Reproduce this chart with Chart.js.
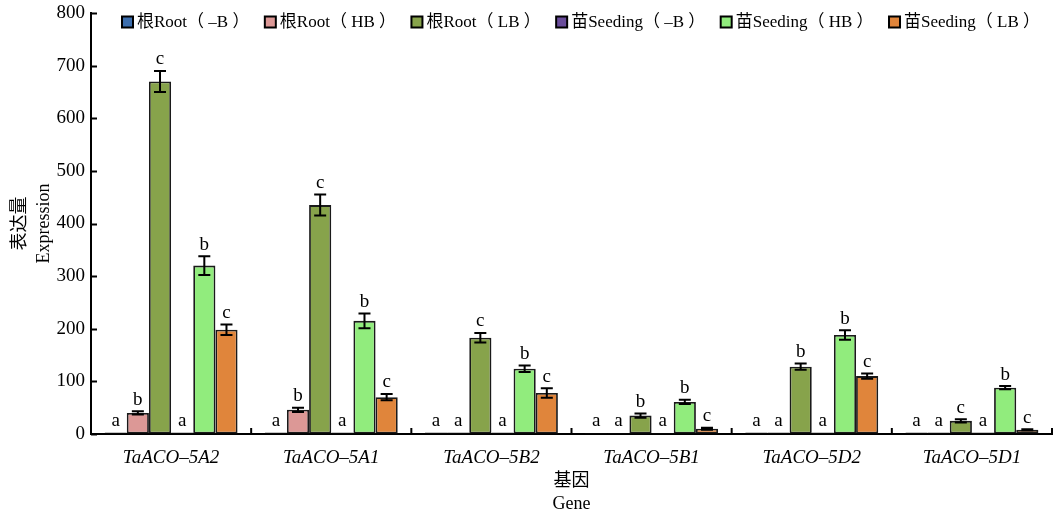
<!DOCTYPE html>
<html>
<head>
<meta charset="utf-8">
<script src="https://cdn.jsdelivr.net/npm/chart.js@4/dist/chart.umd.min.js"></script>
<style>
  html, body { margin: 0; padding: 0; background: #fff; }
</style>
</head>
<body>
<canvas id="c" width="1053" height="514"></canvas>
<script>
// Categories (genes) and series names
const genes = ['TaACO–5A2', 'TaACO–5A1', 'TaACO–5B2', 'TaACO–5B1', 'TaACO–5D2', 'TaACO–5D1'];
const seriesNames = ['根Root（ –B ）', '根Root（ HB ）', '根Root（ LB ）', '苗Seeding（ –B ）', '苗Seeding（ HB ）', '苗Seeding（ LB ）'];

// Mean expression per series
const rootMinusB = [3, 3, 3, 2, 3, 3];
const rootHB     = [40, 46, 3, 2, 3, 3];
const rootLB     = [670, 435, 183, 35, 128, 25];
const seedMinusB = [3, 3, 3, 2, 3, 3];
const seedHB     = [320, 215, 124, 61, 188, 88];
const seedLB     = [198, 70, 78, 10, 110, 8];

// Standard errors per series
const rootMinusBErr = [0, 0, 0, 0, 0, 0];
const rootHBErr     = [3, 4, 0, 0, 0, 0];
const rootLBErr     = [20, 20, 9, 4, 6, 3];
const seedMinusBErr = [0, 0, 0, 0, 0, 0];
const seedHBErr     = [18, 14, 6, 4, 9, 3];
const seedLBErr     = [10, 6, 9, 2, 5, 1];

// Significance letters per series
const rootMinusBSig = ['a', 'a', 'a', 'a', 'a', 'a'];
const rootHBSig     = ['b', 'b', 'a', 'a', 'a', 'a'];
const rootLBSig     = ['c', 'c', 'c', 'b', 'b', 'c'];
const seedMinusBSig = ['a', 'a', 'a', 'a', 'a', 'a'];
const seedHBSig     = ['b', 'b', 'b', 'b', 'b', 'b'];
const seedLBSig     = ['c', 'c', 'c', 'c', 'c', 'c'];

// Axis ticks
const yTicks = [0, 100, 200, 300, 400, 500, 600, 700, 800];

const seriesValues = [rootMinusB, rootHB, rootLB, seedMinusB, seedHB, seedLB];
const seriesErrors = [rootMinusBErr, rootHBErr, rootLBErr, seedMinusBErr, seedHBErr, seedLBErr];
const seriesLetters = [rootMinusBSig, rootHBSig, rootLBSig, seedMinusBSig, seedHBSig, seedLBSig];
const seriesColors = ['#3d6fae', '#dc9896', '#87a34b', '#6a4d9b', '#91ec7d', '#e0853b'];

const FONT = '"Liberation Serif", "Noto Sans CJK SC", serif';

// Error bars and significance letters above each bar
const errorBarPlugin = {
  id: 'errorBars',
  afterDatasetsDraw(chart) {
    const ctx = chart.ctx;
    const y = chart.scales.y;
    ctx.save();
    chart.data.datasets.forEach((ds, i) => {
      const meta = chart.getDatasetMeta(i);
      meta.data.forEach((bar, j) => {
        const v = ds.data[j];
        const e = seriesErrors[i][j];
        let top = y.getPixelForValue(v);
        if (e > 0) {
          const yHi = y.getPixelForValue(v + e);
          const yLo = y.getPixelForValue(v - e);
          ctx.strokeStyle = '#000';
          ctx.lineWidth = 2;
          ctx.beginPath();
          ctx.moveTo(bar.x, yHi); ctx.lineTo(bar.x, yLo);
          ctx.moveTo(bar.x - 6, yHi); ctx.lineTo(bar.x + 6, yHi);
          ctx.moveTo(bar.x - 6, yLo); ctx.lineTo(bar.x + 6, yLo);
          ctx.stroke();
          top = yHi;
        }
        ctx.fillStyle = '#000';
        ctx.font = '19px ' + FONT;
        ctx.textAlign = 'center';
        ctx.textBaseline = 'bottom';
        ctx.fillText(seriesLetters[i][j], bar.x, top - 2);
      });
    });
    ctx.restore();
  }
};

// Inward tick marks: category boundaries on x, value ticks on y
const inwardTicks = {
  id: 'inwardTicks',
  afterDraw(chart) {
    const ctx = chart.ctx;
    const x = chart.scales.x;
    const y = chart.scales.y;
    const { left, bottom } = chart.chartArea;
    ctx.save();
    ctx.strokeStyle = '#000';
    ctx.lineWidth = 2;
    for (let i = 0; i < genes.length; i++) {
      const px = x.getPixelForValue(i + 0.5);
      ctx.beginPath();
      ctx.moveTo(px, bottom);
      ctx.lineTo(px, bottom - 6);
      ctx.stroke();
    }
    yTicks.forEach(v => {
      const py = Math.round(y.getPixelForValue(v)) + 0.5;
      ctx.beginPath();
      ctx.moveTo(left, py);
      ctx.lineTo(left + 6, py);
      ctx.stroke();
    });
    ctx.restore();
  }
};

// Single-row legend laid over the top of the plot
const topLegend = {
  id: 'topLegend',
  afterDraw(chart) {
    const ctx = chart.ctx;
    ctx.save();
    ctx.font = '17px ' + FONT;
    ctx.textBaseline = 'middle';
    ctx.textAlign = 'left';
    const box = 11, boxGap = 4;
    const widths = seriesNames.map(n => box + boxGap + ctx.measureText(n).width);
    const startX = chart.chartArea.left + 31;
    const endX = chart.chartArea.right - 12;
    const gap = (endX - startX - widths.reduce((a, b) => a + b, 0)) / (seriesNames.length - 1);
    const cy = 22;
    let x = startX;
    seriesNames.forEach((name, i) => {
      ctx.fillStyle = seriesColors[i];
      ctx.fillRect(x, cy - box / 2, box, box);
      ctx.strokeStyle = '#000';
      ctx.lineWidth = 2;
      ctx.strokeRect(x, cy - box / 2, box, box);
      ctx.fillStyle = '#000';
      ctx.fillText(name, x + box + boxGap, cy + 1);
      x += widths[i] + gap;
    });
    ctx.restore();
  }
};

new Chart(document.getElementById('c'), {
  type: 'bar',
  data: {
    labels: genes,
    datasets: seriesNames.map((name, i) => ({
      label: name,
      data: seriesValues[i],
      backgroundColor: seriesColors[i],
      borderColor: '#1a1a1a',
      borderWidth: 1.8,
      borderSkipped: false,
      categoryPercentage: 0.83,
      barPercentage: 1.0
    }))
  },
  options: {
    responsive: false,
    devicePixelRatio: 1,
    animation: false,
    layout: { padding: { top: 13, right: 1, left: 0, bottom: 0 } },
    plugins: {
      legend: { display: false },
      tooltip: { enabled: false }
    },
    scales: {
      x: {
        type: 'category',
        offset: true,
        grid: { display: false },
        border: { display: true, color: '#000', width: 2 },
        ticks: {
          color: '#000',
          padding: 5,
          maxRotation: 0,
          font: { family: FONT, size: 19, style: 'italic' }
        },
        title: {
          display: true,
          text: ['基因', 'Gene'],
          color: '#000',
          font: { family: FONT, size: 18, lineHeight: 1.28 },
          padding: { top: 0, bottom: -2 }
        },
        afterFit(scale) {
          scale.height = 80;
          scale.paddingLeft = 0;
          scale.paddingRight = 0;
        }
      },
      y: {
        min: 0,
        max: 800,
        afterBuildTicks(scale) { scale.ticks = yTicks.map(v => ({ value: v })); },
        grid: {
          drawOnChartArea: false,
          drawTicks: false
        },
        border: { display: true, color: '#000', width: 2 },
        ticks: {
          color: '#000',
          padding: 6,
          font: { family: FONT, size: 19 }
        },
        title: {
          display: true,
          text: ['表达量', 'Expression'],
          color: '#000',
          font: { family: FONT, size: 18, lineHeight: 1.3 },
          padding: { top: 9, bottom: 0 }
        },
        afterFit(scale) {
          scale.width = 91;
          scale.paddingTop = 0;
          scale.paddingBottom = 0;
        }
      }
    }
  },
  plugins: [errorBarPlugin, inwardTicks, topLegend]
});
</script>
</body>
</html>
